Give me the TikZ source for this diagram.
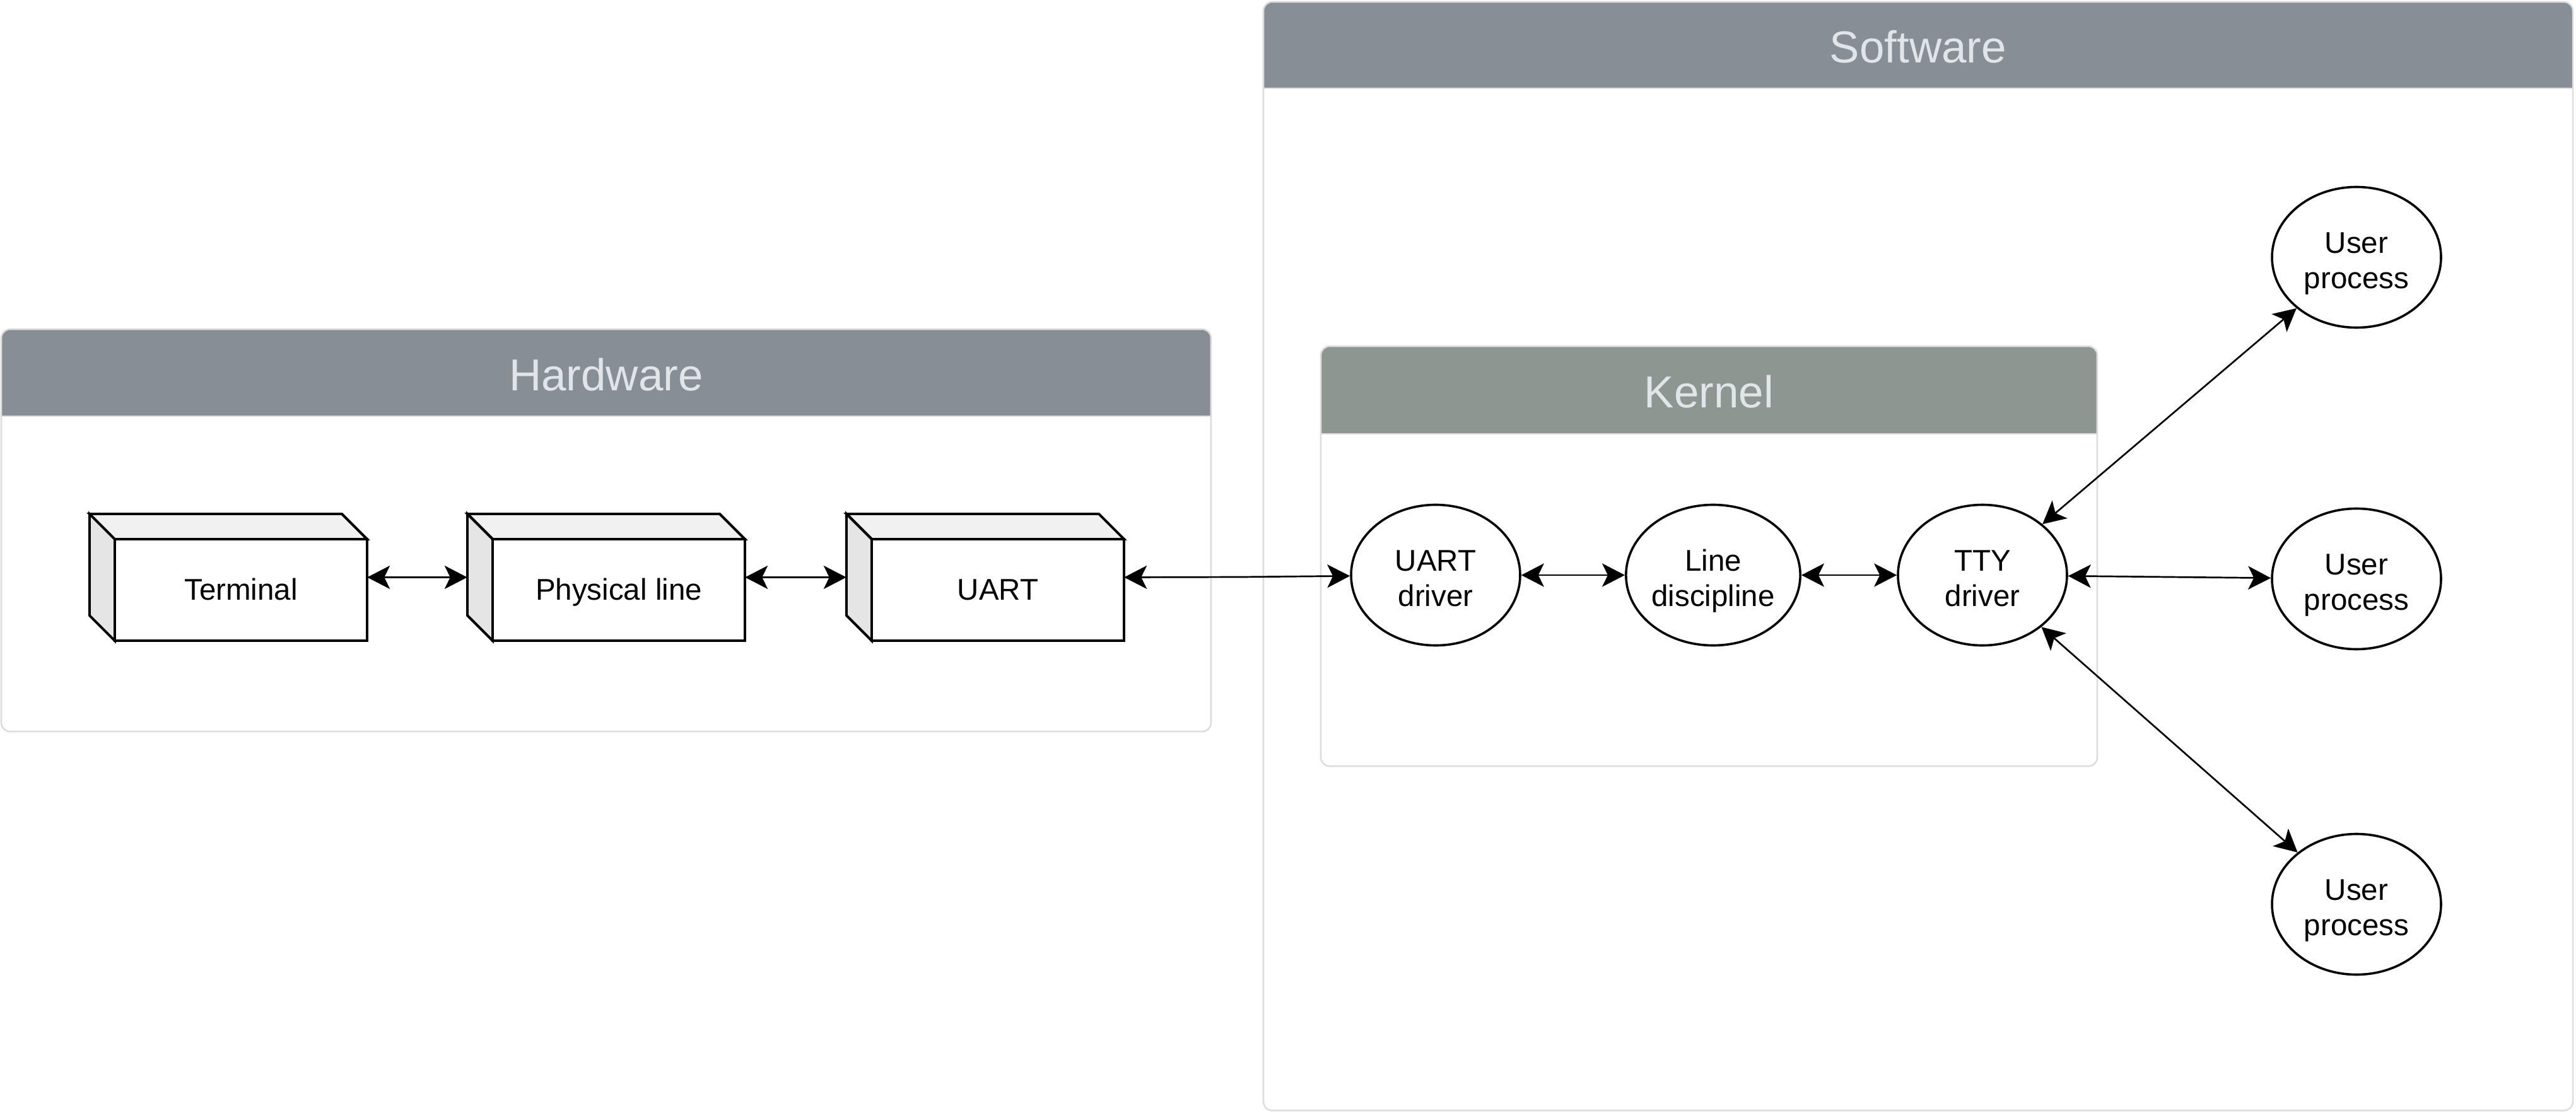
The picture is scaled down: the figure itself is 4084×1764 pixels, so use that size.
\documentclass[tikz,border=0pt]{standalone}
\usepackage{fontspec}
\setmainfont{Liberation Sans}
\usetikzlibrary{arrows.meta,shapes.geometric}
\definecolor{hdrgrey}{HTML}{878E96}
\definecolor{kergrey}{HTML}{8D9691}
\definecolor{bordergrey}{HTML}{DDDDDD}
\definecolor{hdrtext}{HTML}{E1E4E8}
\definecolor{cubetop}{HTML}{F1F1F1}
\definecolor{cubeside}{HTML}{E5E5E5}
\tikzset{
  lbl/.style={font=\fontsize{47.5}{56}\selectfont, align=center, text=black},
  hdr/.style={font=\fontsize{71}{85}\selectfont, text=hdrtext, inner sep=0pt},
  cubebox/.style={rectangle, draw=none, minimum width=440pt, minimum height=201pt, inner sep=0pt},
  proc/.style={ellipse, draw=black, line width=3.6pt, fill=white, minimum width=268pt, minimum height=223pt, inner sep=0pt, lbl},
  conn/.style={line width=2.7pt, {Stealth[length=36pt,width=37pt,inset=9pt]}-{Stealth[length=36pt,width=37pt,inset=9pt]}},
  face/.style={draw=black, line width=3.9pt, line join=miter},
  frame/.style={draw=bordergrey, line width=2.6pt},
}
\newcommand\twoline[2]{\raisebox{7pt}[0pt][0pt]{\begin{tabular}[t]{@{}c@{}}#1\\#2\end{tabular}}}
\newcommand\mkcontainer[8]{% name x1 y1 x2 y2 hy fill text
  \fill[white, rounded corners=14pt] (#2,#3) rectangle (#4,#5);
  \begin{scope}
    \clip[rounded corners=14pt] (#2,#3) rectangle (#4,#5);
    \fill[#7] (#2,#3) rectangle (#4,#6);
  \end{scope}
  \draw[frame] (#2,#6) -- (#4,#6);
  \draw[frame, rounded corners=14pt] (#2,#3) rectangle (#4,#5);
  \node[hdr] (#1) at ({(#2+#4)/2},{(#3+#6)/2+3}) {#8};
}
\newcommand\mkcube[4]{% name L T text
  \draw[face, fill=cubetop] (#2,#3) -- ({#2+400},#3) -- ({#2+440},{#3+40}) -- ({#2+40},{#3+40}) -- cycle;
  \draw[face, fill=cubeside] (#2,#3) -- ({#2+40},{#3+40}) -- ({#2+40},{#3+201}) -- (#2,{#3+161}) -- cycle;
  \draw[face, fill=white] ({#2+40},{#3+40}) rectangle ({#2+440},{#3+201});
  \node[cubebox] (#1) at ({#2+220},{#3+100.5}) {};
  \node[lbl, anchor=base, inner sep=0pt] (#1-t) at ({#2+240},{#3+136.5}) {#4};
}
\begin{document}
\begin{tikzpicture}[x=1pt,y=-1pt]
  \useasboundingbox (0,0) rectangle (4084,1764);
  % containers
  \mkcontainer{hw}{2}{522}{1920}{1160}{660}{hdrgrey}{Hardware}
  \mkcontainer{sw}{2003}{3}{4079}{1761}{140}{hdrgrey}{Software}
  \mkcontainer{kern}{2094}{549}{3325}{1215}{688}{kergrey}{Kernel}
  % hardware cubes
  \mkcube{term}{142}{815}{Terminal}
  \mkcube{phys}{741}{815}{Physical line}
  \mkcube{uart}{1342}{815}{UART}
  % software processes
  \node[proc] (udrv) at (2276,912) {\twoline{UART}{driver}};
  \node[proc] (ldisc) at (2716,912) {\twoline{Line}{discipline}};
  \node[proc] (tty) at (3143,912) {\twoline{TTY}{driver}};
  \node[proc] (up1) at (3736,408) {\twoline{User}{process}};
  \node[proc] (up2) at (3736,918) {\twoline{User}{process}};
  \node[proc] (up3) at (3736,1434) {\twoline{User}{process}};
  \coordinate (bend) at (1967,915);
  % connectors
  \draw[conn] (term.east) -- (phys.west);
  \draw[conn] (phys.east) -- (uart.west);
  \draw[conn] (uart.east) -- (bend) -- (udrv);
  \draw[conn] (udrv) -- (ldisc);
  \draw[conn] (ldisc) -- (tty);
  \draw[conn] (tty) -- (up1);
  \draw[conn] (tty) -- (up2);
  \draw[conn] (tty) -- (up3);
\end{tikzpicture}
\end{document}
